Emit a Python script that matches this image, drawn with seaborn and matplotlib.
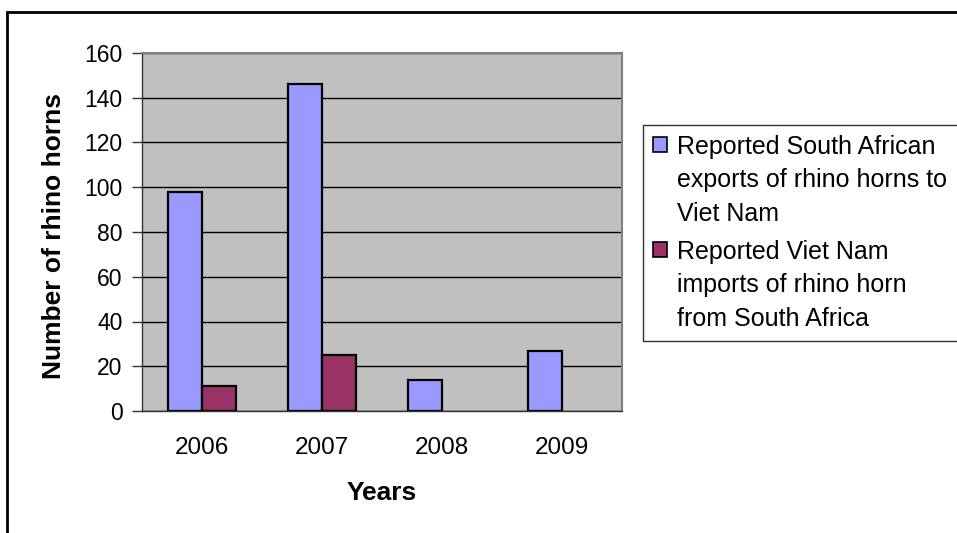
import numpy as np
import pandas as pd
import matplotlib.pyplot as plt
import matplotlib.patches as mpatches
from matplotlib.legend_handler import HandlerPatch
import seaborn as sns

# data
years = ['2006', '2007', '2008', '2009']
sa_exports = [98, 146, 14, 27]
vn_imports = [11, 25, np.nan, np.nan]
series_names = ['Reported South African\nexports of rhino horns to\nViet Nam',
                'Reported Viet Nam\nimports of rhino horn\nfrom South Africa']
colors = ['#9999FF', '#993366']
yticks = [0, 20, 40, 60, 80, 100, 120, 140, 160]

df = pd.DataFrame({
    'year': years * 2,
    'horns': sa_exports + vn_imports,
    'series': [series_names[0]] * 4 + [series_names[1]] * 4,
})


class TopPatch(HandlerPatch):
    # put the legend square next to the first line of a wrapped label
    def create_artists(self, legend, orig_handle, xdescent, ydescent,
                       width, height, fontsize, trans):
        p = mpatches.Rectangle((-xdescent, -ydescent + 1.45 * fontsize), width, height)
        self.update_prop(p, orig_handle, legend)
        p.set_transform(trans)
        return [p]


sns.set_style('white', rc={'text.color': 'black', 'axes.labelcolor': 'black',
                           'xtick.color': 'black', 'ytick.color': 'black'})
plt.rcParams['font.family'] = ['Liberation Sans', 'DejaVu Sans']

fig = plt.figure(figsize=(9.57, 5.33), dpi=100)
ax = fig.add_axes([142 / 957, 1 - 411 / 533, 480 / 957, 358 / 533])
ax.set_facecolor('#C0C0C0')

sns.barplot(data=df, x='year', y='horns', hue='series', palette=colors,
            saturation=1, width=0.57, edgecolor='black', linewidth=1.6,
            ax=ax, legend=False)

ax.set_ylim(0, 160)
ax.set_xlim(-0.5, 3.5)
ax.set_yticks(yticks)
ax.set_yticklabels([str(t) for t in yticks], fontsize=16.5)
ax.set_xticks(range(len(years)))
ax.set_xticklabels(years, fontsize=17.5)
ax.set_xticks(np.arange(-0.5, 4, 1), minor=True)
ax.tick_params(axis='x', which='major', length=0, pad=19)
ax.tick_params(axis='x', which='minor', length=7, width=1, color='#333333')
ax.tick_params(axis='y', length=7, width=1, color='#333333', pad=7, left=True)

ax.yaxis.grid(True, color='black', linewidth=1)
ax.set_axisbelow(True)
for s in ['top', 'right']:
    ax.spines[s].set_color('#808080')
    ax.spines[s].set_linewidth(1.5)
for s in ['left', 'bottom']:
    ax.spines[s].set_color('#333333')
    ax.spines[s].set_linewidth(1)

ax.set_xlabel('Years', fontsize=19, fontweight='bold')
ax.xaxis.set_label_coords(0.5, -0.195)
ax.set_ylabel('Number of rhino horns', fontsize=19, fontweight='bold')
ax.yaxis.set_label_coords(-0.158, 0.49)

# legend box runs past the right edge of the image, as in the original
handles = [mpatches.Patch(facecolor=c, edgecolor='black', linewidth=1.2) for c in colors]
leg = fig.legend(handles, series_names, loc='upper left', mode='expand',
                 bbox_to_anchor=(643 / 957, 0, 330 / 957, 1 - 125 / 533), fontsize=18,
                 frameon=True, fancybox=False, edgecolor='black',
                 handlelength=0.55, handleheight=0.55, handletextpad=0.4,
                 borderpad=0.4, labelspacing=0.55, borderaxespad=0,
                 handler_map={mpatches.Patch: TopPatch()})
leg.get_frame().set_linewidth(1)
for t in leg.get_texts():
    t.set_linespacing(1.5)

# outer chart border, running off the right and bottom of the image
fig.patches.append(mpatches.Rectangle((7 / 957, -0.1), 1.1, 1 - 12 / 533 + 0.1,
                                      transform=fig.transFigure, fill=False,
                                      edgecolor='black', linewidth=2))

fig.savefig('out.png', dpi=100)
